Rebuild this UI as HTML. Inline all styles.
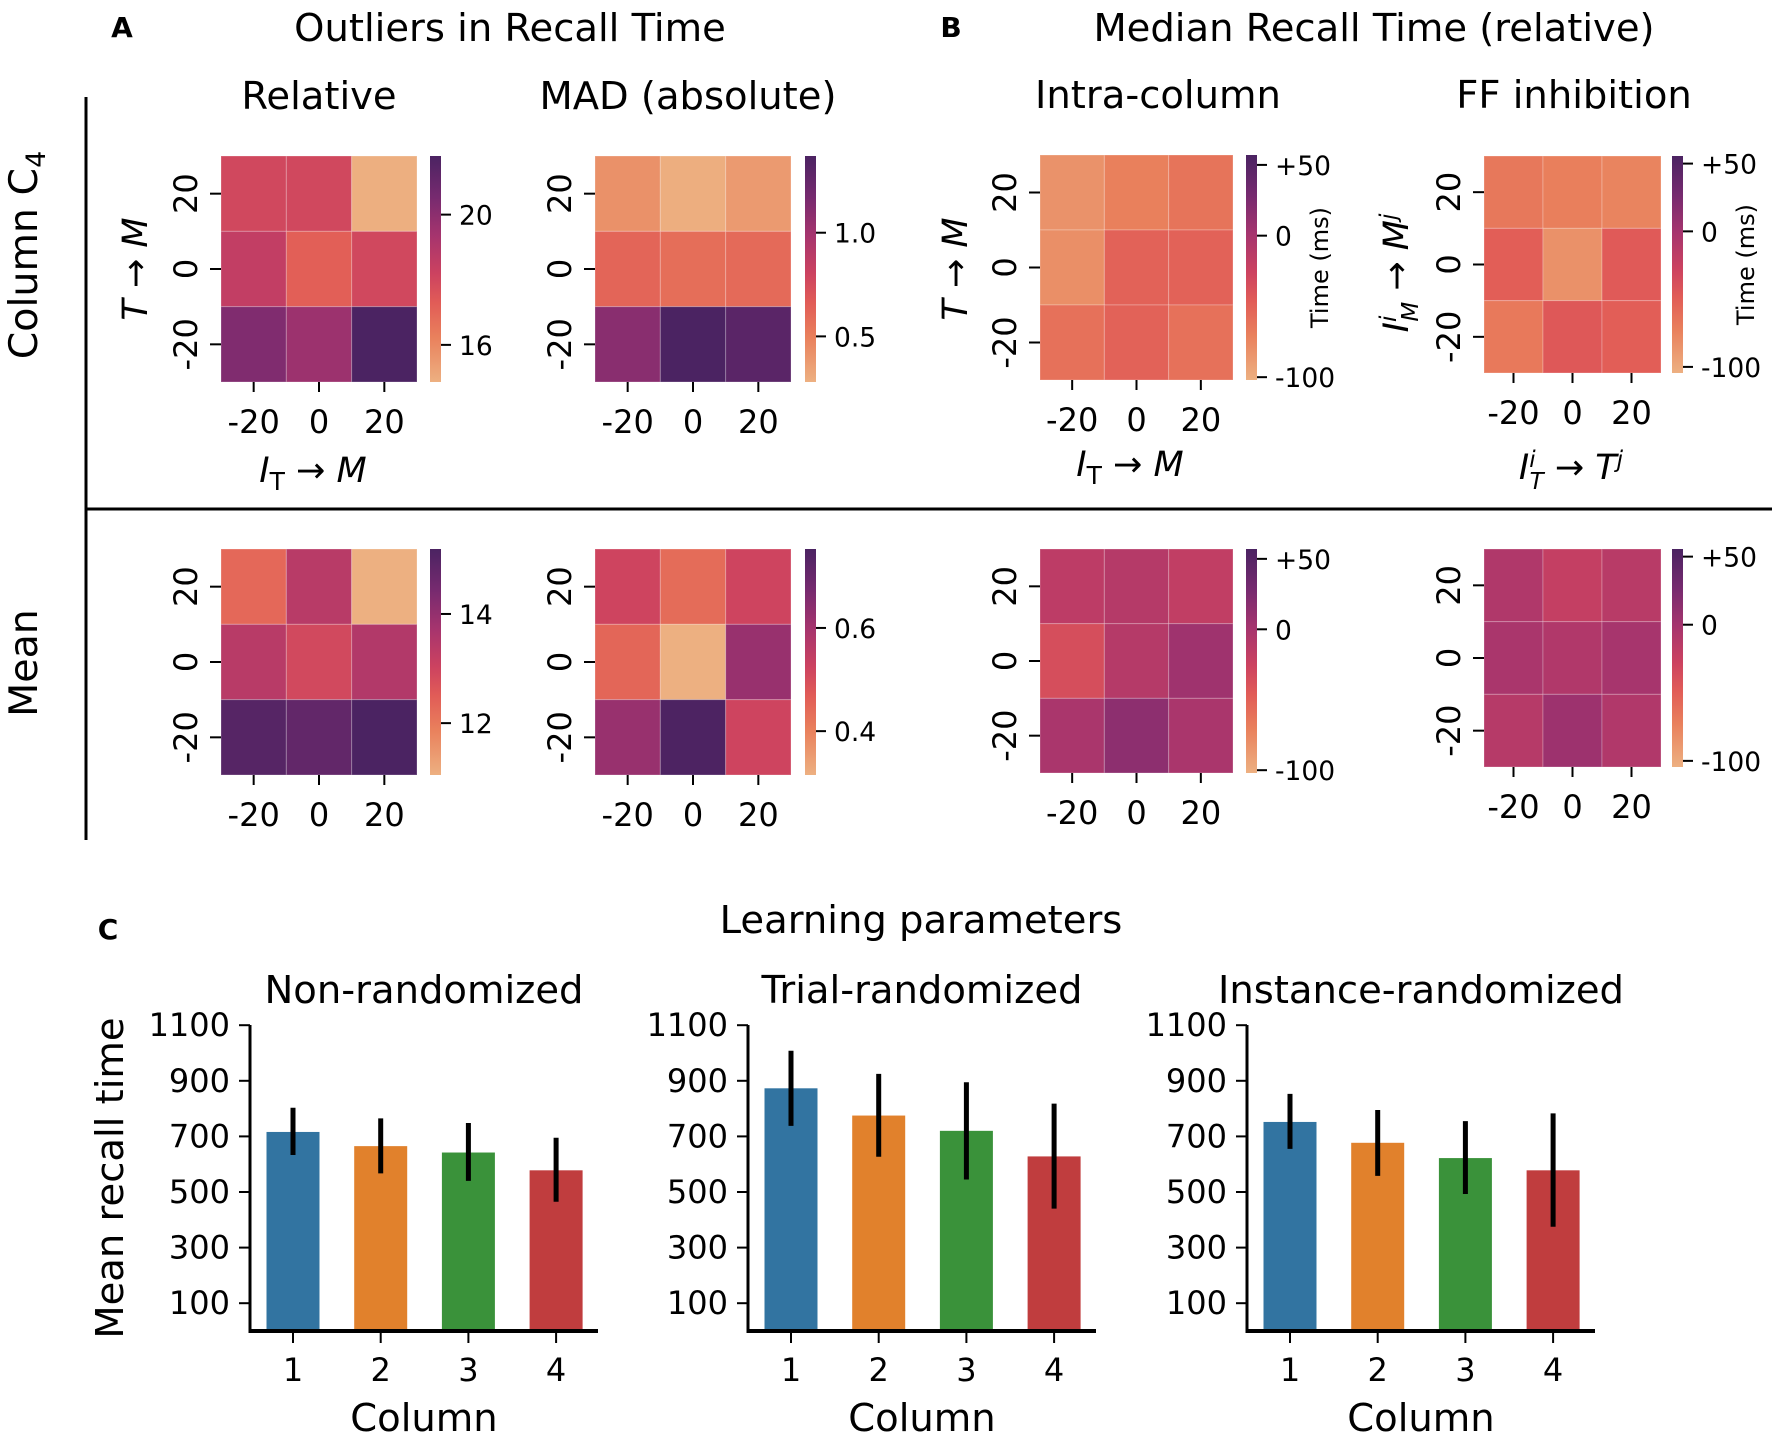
<!DOCTYPE html>
<html><head><meta charset="utf-8">
<style>
html,body{margin:0;padding:0;background:#fff;}
svg{display:block;font-family:"DejaVu Sans","Liberation Sans",sans-serif;}
</style></head>
<body>
<svg id="fig" width="1772" height="1434" viewBox="0 0 1772 1434" xmlns="http://www.w3.org/2000/svg">
<defs>
<linearGradient id="flare" x1="0" y1="1" x2="0" y2="0">
<stop offset="0" stop-color="rgb(237,176,129)"/>
<stop offset="0.2" stop-color="rgb(233,128,92)"/>
<stop offset="0.35" stop-color="rgb(225,92,87)"/>
<stop offset="0.48" stop-color="rgb(204,66,96)"/>
<stop offset="0.65" stop-color="rgb(165,52,110)"/>
<stop offset="0.82" stop-color="rgb(118,42,111)"/>
<stop offset="1" stop-color="rgb(75,35,98)"/>
</linearGradient>
</defs>
<g id="root"></g>
</svg>
<script>
// ---- Heatmap data (rows top->bottom: 20, 0, -20; cols: -20, 0, 20) ----
const hmTicks = ["-20", "0", "20"];
const relTop = [[18.0, 18.0, 14.9], [18.5, 17.2, 18.0], [20.3, 19.6, 21.8]];
const madTop = [[0.42, 0.29, 0.38], [0.62, 0.58, 0.60], [1.10, 1.37, 1.30]];
const relBot = [[12.3, 13.4, 11.05], [13.4, 12.9, 13.5], [15.0, 14.8, 15.19]];
const madBot = [[0.52, 0.44, 0.52], [0.45, 0.315, 0.62], [0.62, 0.75, 0.52]];
const intraTop = [[-82, -70, -62], [-80, -50, -50], [-60, -50, -60]];
const ffTop = [[-67, -72, -75], [-50, -84, -47], [-68, -45, -50]];
const intraBot = [[-15, -10, -18], [-35, -10, 5], [-2, 15, -2]];
const ffBot = [[-8, -22, -14], [-4, -9, -2], [-12, 4, -9]];
const relTopCb = ["20", "16"], relTopCbV = [20, 16];
const madTopCb = ["1.0", "0.5"], madTopCbV = [1.0, 0.5];
const relBotCb = ["14", "12"], relBotCbV = [14, 12];
const madBotCb = ["0.6", "0.4"], madBotCbV = [0.6, 0.4];
const timeCb = ["+50", "0", "-100"], timeCbV = [50, 0, -100];
// ---- Bar chart data ----
const barCats = ["1", "2", "3", "4"];
const barTicks = [100, 300, 500, 700, 900, 1100];
const nonRandMean = [716, 665, 642, 578];
const nonRandLo = [633, 567, 540, 465];
const nonRandHi = [803, 765, 748, 695];
const trialMean = [873, 775, 720, 628];
const trialLo = [738, 627, 545, 440];
const trialHi = [1008, 925, 895, 818];
const instMean = [752, 677, 622, 578];
const instLo = [655, 558, 493, 375];
const instHi = [853, 795, 755, 783];
const barColors = ["#3274a1", "#e1812c", "#3a923a", "#c03d3e"];

const NS = "http://www.w3.org/2000/svg";
const root = document.getElementById("root");
function el(tag, attrs, parent, text) {
  const e = document.createElementNS(NS, tag);
  for (const k in attrs) e.setAttribute(k, attrs[k]);
  if (text !== undefined) e.textContent = text;
  (parent || root).appendChild(e);
  return e;
}
const stops = [[0,[237,176,129]],[0.2,[233,128,92]],[0.35,[225,92,87]],[0.48,[204,66,96]],[0.65,[165,52,110]],[0.82,[118,42,111]],[1,[75,35,98]]];
function cmap(t) {
  t = Math.max(0, Math.min(1, t));
  for (let i = 1; i < stops.length; i++) {
    if (t <= stops[i][0]) {
      const a = stops[i-1], b = stops[i], f = (t - a[0]) / (b[0] - a[0]);
      const c = a[1].map((v, j) => Math.round(v + (b[1][j] - v) * f));
      return "rgb(" + c.join(",") + ")";
    }
  }
  return "rgb(75,35,98)";
}

function heatmap(name, data, x0, x1, y0, y1, vmin, vmax, cbx, cbLabels, cbVals, opts) {
  const g = el("g", {}, root);
  
  
  const cw = (x1 - x0) / 3, ch = (y1 - y0) / 3;
  for (let r = 0; r < 3; r++) for (let c = 0; c < 3; c++) {
    const rc = el("rect", {x: x0 + c * cw, y: y0 + r * ch, width: cw, height: ch, fill: cmap((data[r][c] - vmin) / (vmax - vmin)), stroke: "rgba(255,255,255,0.25)", "stroke-width": 1}, g);
    
    
  }
  for (let i = 0; i < 3; i++) {
    const tx = x0 + cw * (i + 0.5);
    el("line", {x1: tx, y1: y1, x2: tx, y2: y1 + 10, stroke: "#000", "stroke-width": 2}, g);
    const t = el("text", {x: tx, y: y1 + 51, "font-size": 32, "text-anchor": "middle"}, g, hmTicks[i]);
    
    
    const ty = y0 + ch * (i + 0.5);
    el("line", {x1: x0 - 11, y1: ty, x2: x0, y2: ty, stroke: "#000", "stroke-width": 2}, g);
    const yl = el("text", {x: 0, y: 0, "font-size": 32, "text-anchor": "middle", transform: "translate(" + (x0 - 24) + "," + ty + ") rotate(-90)"}, g, hmTicks[2 - i]);
    
    
  }
  const cb = el("rect", {x: cbx, y: y0, width: 11, height: y1 - y0, fill: "url(#flare)"}, g);
  
  
  for (let i = 0; i < cbVals.length; i++) {
    const yy = y1 - (cbVals[i] - vmin) / (vmax - vmin) * (y1 - y0);
    el("line", {x1: cbx + 11, y1: yy, x2: cbx + 21, y2: yy, stroke: "#000", "stroke-width": 2}, g);
    const t = el("text", {x: cbx + 29, y: yy + 10, "font-size": 26.5}, g, cbLabels[i]);
    
    
  }
  if (opts && opts.time) {
    const t = el("text", {x: 0, y: 0, "font-size": 24, "text-anchor": "middle", transform: "translate(" + (cbx + 82) + "," + ((y0 + y1) / 2) + ") rotate(-90)"}, g, "Time (ms)");
    
    
  }
}

heatmap("heatmap-relative-c4", relTop, 221, 417, 156, 382, 14.86, 21.8, 430, relTopCb, relTopCbV);
heatmap("heatmap-mad-c4", madTop, 595, 791, 156, 382, 0.28, 1.37, 805, madTopCb, madTopCbV);
heatmap("heatmap-relative-mean", relBot, 221, 417, 549, 775, 11.05, 15.19, 430, relBotCb, relBotCbV);
heatmap("heatmap-mad-mean", madBot, 595, 791, 549, 775, 0.315, 0.753, 805, madBotCb, madBotCbV);
heatmap("heatmap-intra-c4", intraTop, 1040, 1233, 155, 380, -102, 57, 1246, timeCb, timeCbV, {time: true});
heatmap("heatmap-ff-c4", ffTop, 1484, 1661, 156, 373, -104.5, 55.6, 1672, timeCb, timeCbV, {time: true});
heatmap("heatmap-intra-mean", intraBot, 1040, 1233, 549, 773, -102, 57, 1246, timeCb, timeCbV);
heatmap("heatmap-ff-mean", ffBot, 1484, 1661, 549, 767, -104.5, 55.6, 1672, timeCb, timeCbV);

function txt(name, x, y, s, size, extra) {
  const a = Object.assign({x: x, y: y, "font-size": size, "text-anchor": "middle"}, extra || {});
  const t = el("text", a, root);
  t.innerHTML = s;
  
  
  return t;
}
function rtxt(name, cx, cy, s, size, extra) {
  return txt(name, 0, 0, s, size, Object.assign({transform: "translate(" + cx + "," + cy + ") rotate(-90)"}, extra || {}));
}
txt("panel-a-letter", 122, 37, "A", 28, {"font-weight": "bold"});
txt("title-outliers", 510, 41, "Outliers in Recall Time", 38.5);
txt("title-relative", 319, 109, "Relative", 38.5);
txt("title-mad", 688, 109, "MAD (absolute)", 38.5);
txt("panel-b-letter", 951, 37, "B", 28, {"font-weight": "bold"});
txt("title-median", 1374, 41, "Median Recall Time (relative)", 38.5);
txt("title-intra", 1158, 108, "Intra-column", 38.5);
txt("title-ff", 1574, 108, "FF inhibition", 38.5);
rtxt("row-label-column-c4", 37, 255, 'Column C<tspan font-size="27" dy="8">4</tspan>', 39.5);
rtxt("row-label-mean", 37, 663, "Mean", 39.5);
txt("x-label-a", 313, 482, '<tspan font-style="italic">I</tspan><tspan font-size="25" dy="8">T</tspan><tspan dy="-8"> → </tspan><tspan font-style="italic">M</tspan>', 35);
rtxt("y-label-a", 147, 269, '<tspan font-style="italic">T</tspan> → <tspan font-style="italic">M</tspan>', 35);
txt("x-label-intra", 1130, 476, '<tspan font-style="italic">I</tspan><tspan font-size="25" dy="8">T</tspan><tspan dy="-8"> → </tspan><tspan font-style="italic">M</tspan>', 35);
rtxt("y-label-intra", 967, 269, '<tspan font-style="italic">T</tspan> → <tspan font-style="italic">M</tspan>', 35);
txt("x-label-ff", 1571, 479, '<tspan font-style="italic">I</tspan><tspan font-size="23" font-style="italic" dy="-12">i</tspan><tspan font-size="23" font-style="italic" dx="-6" dy="22">T</tspan><tspan dy="-10"> → </tspan><tspan font-style="italic">T</tspan><tspan font-size="23" font-style="italic" dy="-12">j</tspan>', 35);
rtxt("y-label-ff", 1408, 273, '<tspan font-style="italic">I</tspan><tspan font-size="23" font-style="italic" dy="-12">i</tspan><tspan font-size="23" font-style="italic" dx="-6" dy="22">M</tspan><tspan dy="-10"> → </tspan><tspan font-style="italic">M</tspan><tspan font-size="23" font-style="italic" dy="-12">j</tspan>', 35);
el("line", {x1: 86, y1: 97, x2: 86, y2: 840, stroke: "#000", "stroke-width": 3});
el("line", {x1: 86, y1: 509, x2: 1772, y2: 509, stroke: "#000", "stroke-width": 3});

txt("panel-c-letter", 108, 939, "C", 28, {"font-weight": "bold"});
txt("title-learning", 921, 933, "Learning parameters", 38.5);
rtxt("y-label-mean-recall", 123, 1178, "Mean recall time", 38.5);
const y0v = 1331, pxPerUnit = (1303 - 1025) / 1000;
function yScale(v) { return y0v - v * pxPerUnit; }
function barPanel(name, title, left, means, lo, hi) {
  const g = el("g", {}, root);
  
  
  const step = 87.7, first = left + 43, bw = 53;
  const tt = el("text", {x: left + 174, y: 1003, "font-size": 38.5, "text-anchor": "middle"}, g, title);
  
  
  for (let i = 0; i < barTicks.length; i++) {
    const yy = yScale(barTicks[i]);
    el("line", {x1: left - 11, y1: yy, x2: left, y2: yy, stroke: "#000", "stroke-width": 2}, g);
    const t = el("text", {x: left - 20, y: yy + 11, "font-size": 32, "text-anchor": "end"}, g, String(barTicks[i]));
    
    
  }
  for (let i = 0; i < means.length; i++) {
    const cx = first + step * i;
    const b = el("rect", {x: cx - bw / 2, y: yScale(means[i]), width: bw, height: yScale(0) - yScale(means[i]) - 2, fill: barColors[i]}, g);
    
    
    const e = el("line", {x1: cx, y1: yScale(hi[i]), x2: cx, y2: yScale(lo[i]), stroke: "#000", "stroke-width": 5}, g);
    
    
    el("line", {x1: cx, y1: y0v, x2: cx, y2: y0v + 12, stroke: "#000", "stroke-width": 2}, g);
    const t = el("text", {x: cx, y: 1381, "font-size": 32, "text-anchor": "middle"}, g, barCats[i]);
    
    
  }
  el("line", {x1: left, y1: 1025, x2: left, y2: y0v + 2, stroke: "#000", "stroke-width": 3}, g);
  el("line", {x1: left - 1, y1: y0v, x2: left + 348, y2: y0v, stroke: "#000", "stroke-width": 4}, g);
  const xl = el("text", {x: left + 174, y: 1431, "font-size": 38.5, "text-anchor": "middle"}, g, "Column");
  
  
}
barPanel("bar-chart-non-randomized", "Non-randomized", 250, nonRandMean, nonRandLo, nonRandHi);
barPanel("bar-chart-trial-randomized", "Trial-randomized", 748, trialMean, trialLo, trialHi);
barPanel("bar-chart-instance-randomized", "Instance-randomized", 1247, instMean, instLo, instHi);
</script>
</body></html>
